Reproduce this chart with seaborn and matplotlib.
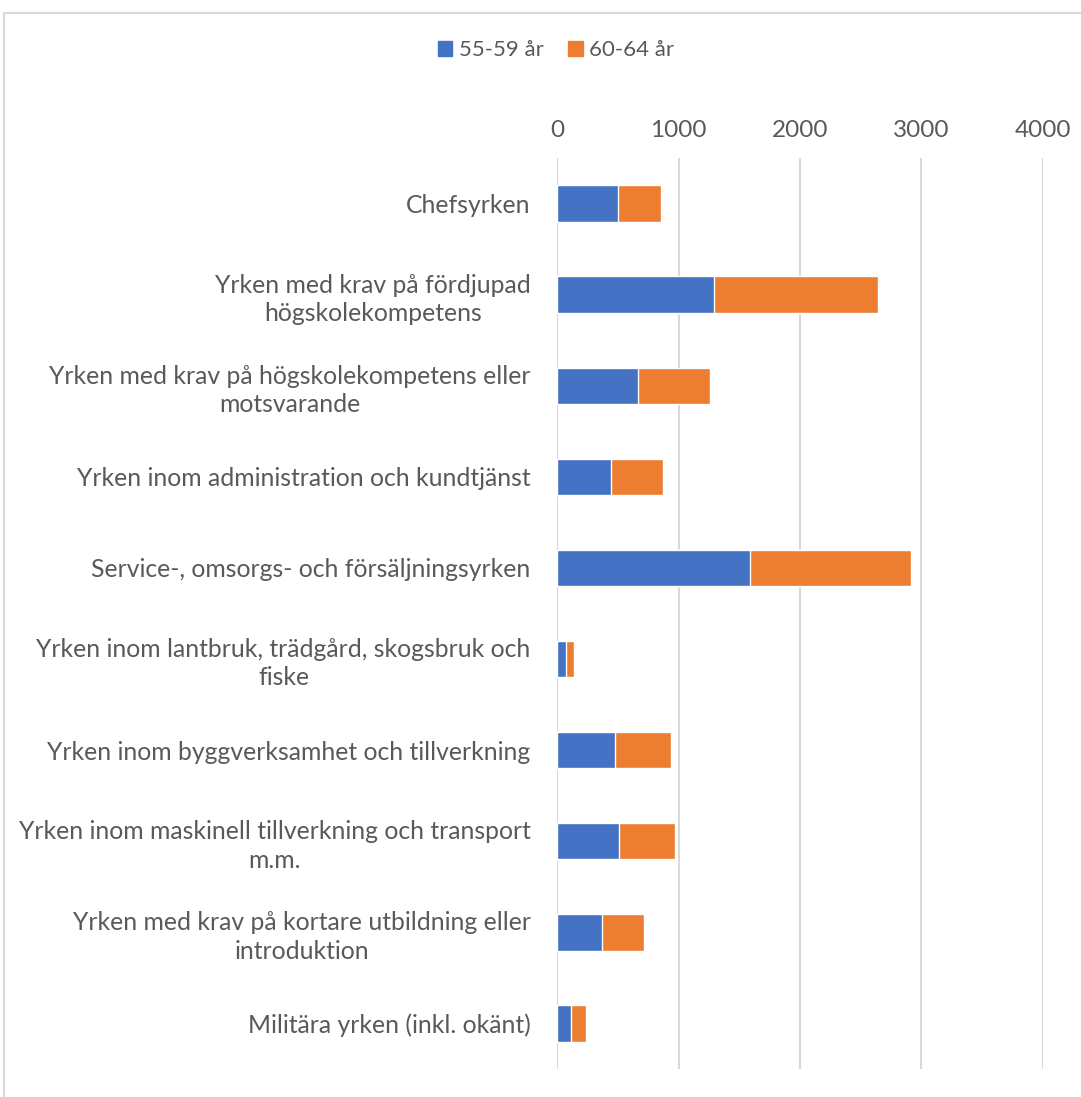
import numpy as np
import pandas as pd
import matplotlib.pyplot as plt
from matplotlib.lines import Line2D
import seaborn as sns

categories = [
    'Chefsyrken',
    'Yrken med krav på fördjupad\nhögskolekompetens',
    'Yrken med krav på högskolekompetens eller\nmotsvarande',
    'Yrken inom administration och kundtjänst',
    'Service-, omsorgs- och försäljningsyrken',
    'Yrken inom lantbruk, trädgård, skogsbruk och\nfiske',
    'Yrken inom byggverksamhet och tillverkning',
    'Yrken inom maskinell tillverkning och transport\nm.m.',
    'Yrken med krav på kortare utbildning eller\nintroduktion',
    'Militära yrken (inkl. okänt)',
]
age_55_59 = [502, 1292, 667, 444, 1591, 74, 477, 513, 373, 115]
age_60_64 = [351, 1353, 595, 428, 1320, 66, 464, 458, 343, 124]
series_names = ['55-59 år', '60-64 år']
xticks = [0, 1000, 2000, 3000, 4000]

blue = '#4472C4'
orange = '#ED7D31'
grey_text = '#595959'
grid_col = '#D9D9D9'

df = pd.DataFrame({'yrke': categories, 'a': age_55_59, 'b': age_60_64})
df['total'] = df['a'] + df['b']

sns.set_theme(style='white')
plt.rcParams['font.family'] = ['Lato', 'DejaVu Sans']

fig = plt.figure(figsize=(10.81, 10.97), dpi=100)
ax = fig.add_axes([557 / 1081, 1 - 1069 / 1097, (1043 - 557) / 1081, (1069 - 158) / 1097])

sns.barplot(data=df, x='total', y='yrke', color=orange, saturation=1, width=0.4,
            orient='h', ax=ax, zorder=3)
sns.barplot(data=df, x='a', y='yrke', color=blue, saturation=1, width=0.4,
            orient='h', ax=ax, zorder=4)

ax.set_xlim(0, 4000)
ax.set_xticks(xticks)
ax.xaxis.tick_top()
ax.tick_params(axis='x', length=0, pad=12, labelsize=17.5, labelcolor=grey_text)
ax.tick_params(axis='y', length=0, pad=19, labelsize=17.8, labelcolor=grey_text)
for lbl in ax.get_yticklabels():
    lbl.set_multialignment('center')
    lbl.set_linespacing(1.28)
ax.set_xlabel('')
ax.set_ylabel('')
for s in ax.spines.values():
    s.set_visible(False)
ax.grid(axis='x', color=grid_col, linewidth=1.5, zorder=0)
ax.set_axisbelow(True)

handles = [plt.Rectangle((0, 0), 1, 1, color=blue), plt.Rectangle((0, 0), 1, 1, color=orange)]
fig.legend(handles, series_names, loc='center', bbox_to_anchor=(556 / 1081, 1 - 50 / 1097),
           ncol=2, frameon=False, fontsize=16, labelcolor=grey_text, handlelength=0.65,
           handleheight=0.65, handletextpad=0.3, columnspacing=1.1)

# chart frame (left and top edges visible)
fig.add_artist(Line2D([4 / 1081, 4 / 1081], [0, 1 - 13 / 1097], transform=fig.transFigure,
                      color=grid_col, linewidth=1.5))
fig.add_artist(Line2D([4 / 1081, 1], [1 - 13 / 1097, 1 - 13 / 1097], transform=fig.transFigure,
                      color=grid_col, linewidth=1.5))

fig.savefig('out.png', dpi=100)
